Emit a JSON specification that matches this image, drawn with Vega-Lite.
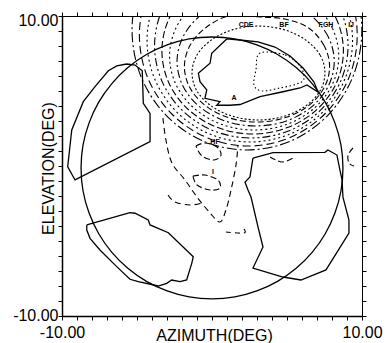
{
"$schema": "https://vega.github.io/schema/vega-lite/v6.json",
"width": 300, "height": 300,
"autosize": "none",
"padding": {"left": 62, "top": 16, "right": 24, "bottom": 27},
"background": "white",
"config": {"view": {"stroke": null}, "font": "Liberation Sans"},
"datasets": {
"contours": [
{"g":"k1","i":0,"x":7.53,"y":6.20},{"g":"k1","i":1,"x":7.20,"y":7.40},{"g":"k1","i":2,"x":6.23,"y":8.41},{"g":"k1","i":3,"x":4.80,"y":9.09},{"g":"k1","i":4,"x":3.10,"y":9.33},{"g":"k1","i":5,"x":1.40,"y":9.09},{"g":"k1","i":6,"x":-0.03,"y":8.41},{"g":"k1","i":7,"x":-1.00,"y":7.40},{"g":"k1","i":8,"x":-1.33,"y":6.20},{"g":"k1","i":9,"x":-1.00,"y":5.00},{"g":"k1","i":10,"x":-0.03,"y":3.99},{"g":"k1","i":11,"x":1.40,"y":3.31},{"g":"k1","i":12,"x":3.10,"y":3.07},{"g":"k1","i":13,"x":4.80,"y":3.31},{"g":"k1","i":14,"x":6.23,"y":3.99},{"g":"k1","i":15,"x":7.20,"y":5.00},
{"g":"k2","i":0,"x":7.84,"y":6.62},{"g":"k2","i":1,"x":7.47,"y":8.03},{"g":"k2","i":2,"x":6.42,"y":9.22},{"g":"k2","i":3,"x":4.85,"y":9.80},{"g":"k2","i":4,"x":3.00,"y":9.95},{"g":"k2","i":5,"x":1.15,"y":10.02},{"g":"k2","i":6,"x":-0.42,"y":9.22},{"g":"k2","i":7,"x":-1.47,"y":8.03},{"g":"k2","i":8,"x":-1.84,"y":6.62},{"g":"k2","i":9,"x":-1.47,"y":5.21},{"g":"k2","i":10,"x":-0.42,"y":4.01},{"g":"k2","i":11,"x":1.15,"y":3.21},{"g":"k2","i":12,"x":3.00,"y":2.93},{"g":"k2","i":13,"x":4.85,"y":3.21},{"g":"k2","i":14,"x":6.42,"y":4.01},{"g":"k2","i":15,"x":7.47,"y":5.21},
{"g":"k3","i":0,"x":8.15,"y":6.97},{"g":"k3","i":1,"x":7.75,"y":8.61},{"g":"k3","i":2,"x":6.62,"y":10.01},{"g":"k3","i":3,"x":4.92,"y":10.94},{"g":"k3","i":4,"x":2.91,"y":11.27},{"g":"k3","i":5,"x":0.90,"y":10.94},{"g":"k3","i":6,"x":-0.80,"y":10.01},{"g":"k3","i":7,"x":-1.93,"y":8.61},{"g":"k3","i":8,"x":-2.33,"y":6.97},{"g":"k3","i":9,"x":-1.93,"y":5.32},{"g":"k3","i":10,"x":-0.80,"y":3.93},{"g":"k3","i":11,"x":0.90,"y":2.99},{"g":"k3","i":12,"x":2.91,"y":2.67},{"g":"k3","i":13,"x":4.92,"y":2.99},{"g":"k3","i":14,"x":6.62,"y":3.93},{"g":"k3","i":15,"x":7.75,"y":5.32},
{"g":"k4","i":0,"x":8.45,"y":7.32},{"g":"k4","i":1,"x":8.02,"y":9.20},{"g":"k4","i":2,"x":6.80,"y":10.79},{"g":"k4","i":3,"x":4.97,"y":11.86},{"g":"k4","i":4,"x":2.81,"y":12.23},{"g":"k4","i":5,"x":0.65,"y":11.86},{"g":"k4","i":6,"x":-1.18,"y":10.79},{"g":"k4","i":7,"x":-2.40,"y":9.20},{"g":"k4","i":8,"x":-2.83,"y":7.32},{"g":"k4","i":9,"x":-2.40,"y":5.43},{"g":"k4","i":10,"x":-1.18,"y":3.84},{"g":"k4","i":11,"x":0.65,"y":2.77},{"g":"k4","i":12,"x":2.81,"y":2.40},{"g":"k4","i":13,"x":4.97,"y":2.77},{"g":"k4","i":14,"x":6.80,"y":3.84},{"g":"k4","i":15,"x":8.02,"y":5.43},
{"g":"k5","i":0,"x":8.76,"y":7.67},{"g":"k5","i":1,"x":8.30,"y":9.79},{"g":"k5","i":2,"x":6.99,"y":11.58},{"g":"k5","i":3,"x":5.03,"y":12.78},{"g":"k5","i":4,"x":2.71,"y":13.20},{"g":"k5","i":5,"x":0.39,"y":12.78},{"g":"k5","i":6,"x":-1.57,"y":11.58},{"g":"k5","i":7,"x":-2.88,"y":9.79},{"g":"k5","i":8,"x":-3.34,"y":7.67},{"g":"k5","i":9,"x":-2.88,"y":5.55},{"g":"k5","i":10,"x":-1.57,"y":3.76},{"g":"k5","i":11,"x":0.39,"y":2.56},{"g":"k5","i":12,"x":2.71,"y":2.13},{"g":"k5","i":13,"x":5.03,"y":2.56},{"g":"k5","i":14,"x":6.99,"y":3.76},{"g":"k5","i":15,"x":8.30,"y":5.55},
{"g":"k6","i":0,"x":9.07,"y":8.02},{"g":"k6","i":1,"x":8.58,"y":10.37},{"g":"k6","i":2,"x":7.18,"y":12.37},{"g":"k6","i":3,"x":5.09,"y":13.70},{"g":"k6","i":4,"x":2.62,"y":14.17},{"g":"k6","i":5,"x":0.15,"y":13.70},{"g":"k6","i":6,"x":-1.94,"y":12.37},{"g":"k6","i":7,"x":-3.34,"y":10.37},{"g":"k6","i":8,"x":-3.83,"y":8.02},{"g":"k6","i":9,"x":-3.34,"y":5.66},{"g":"k6","i":10,"x":-1.94,"y":3.67},{"g":"k6","i":11,"x":0.15,"y":2.33},{"g":"k6","i":12,"x":2.62,"y":1.87},{"g":"k6","i":13,"x":5.09,"y":2.33},{"g":"k6","i":14,"x":7.18,"y":3.67},{"g":"k6","i":15,"x":8.58,"y":5.66},
{"g":"k7","i":0,"x":9.37,"y":8.37},{"g":"k7","i":1,"x":8.85,"y":10.96},{"g":"k7","i":2,"x":7.37,"y":13.15},{"g":"k7","i":3,"x":5.15,"y":14.62},{"g":"k7","i":4,"x":2.52,"y":15.13},{"g":"k7","i":5,"x":-0.11,"y":14.62},{"g":"k7","i":6,"x":-2.33,"y":13.15},{"g":"k7","i":7,"x":-3.81,"y":10.96},{"g":"k7","i":8,"x":-4.33,"y":8.37},{"g":"k7","i":9,"x":-3.81,"y":5.78},{"g":"k7","i":10,"x":-2.33,"y":3.58},{"g":"k7","i":11,"x":-0.11,"y":2.11},{"g":"k7","i":12,"x":2.52,"y":1.60},{"g":"k7","i":13,"x":5.15,"y":2.11},{"g":"k7","i":14,"x":7.37,"y":3.58},{"g":"k7","i":15,"x":8.85,"y":5.78},
{"g":"k8","i":0,"x":9.68,"y":8.72},{"g":"k8","i":1,"x":9.13,"y":11.55},{"g":"k8","i":2,"x":7.55,"y":13.94},{"g":"k8","i":3,"x":5.20,"y":15.54},{"g":"k8","i":4,"x":2.42,"y":16.10},{"g":"k8","i":5,"x":-0.36,"y":15.54},{"g":"k8","i":6,"x":-2.71,"y":13.94},{"g":"k8","i":7,"x":-4.29,"y":11.55},{"g":"k8","i":8,"x":-4.84,"y":8.72},{"g":"k8","i":9,"x":-4.29,"y":5.89},{"g":"k8","i":10,"x":-2.71,"y":3.50},{"g":"k8","i":11,"x":-0.36,"y":1.90},{"g":"k8","i":12,"x":2.42,"y":1.33},{"g":"k8","i":13,"x":5.20,"y":1.90},{"g":"k8","i":14,"x":7.55,"y":3.50},{"g":"k8","i":15,"x":9.13,"y":5.89},
{"g":"k9","i":0,"x":9.99,"y":9.07},{"g":"k9","i":1,"x":9.41,"y":12.13},{"g":"k9","i":2,"x":7.75,"y":14.72},{"g":"k9","i":3,"x":5.26,"y":16.46},{"g":"k9","i":4,"x":2.33,"y":17.07},{"g":"k9","i":5,"x":-0.60,"y":16.46},{"g":"k9","i":6,"x":-3.09,"y":14.72},{"g":"k9","i":7,"x":-4.75,"y":12.13},{"g":"k9","i":8,"x":-5.33,"y":9.07},{"g":"k9","i":9,"x":-4.75,"y":6.00},{"g":"k9","i":10,"x":-3.09,"y":3.41},{"g":"k9","i":11,"x":-0.60,"y":1.67},{"g":"k9","i":12,"x":2.33,"y":1.07},{"g":"k9","i":13,"x":5.26,"y":1.67},{"g":"k9","i":14,"x":7.75,"y":3.41},{"g":"k9","i":15,"x":9.41,"y":6.00},
{"g":"in","i":0,"x":3.20,"y":7.53},{"g":"in","i":1,"x":4.87,"y":7.40},{"g":"in","i":2,"x":5.87,"y":6.67},{"g":"in","i":3,"x":6.13,"y":5.80},{"g":"in","i":4,"x":5.60,"y":5.45},{"g":"in","i":5,"x":4.53,"y":5.20},{"g":"in","i":6,"x":3.33,"y":5.00},{"g":"in","i":7,"x":2.80,"y":5.40},{"g":"in","i":8,"x":2.93,"y":6.40}
],
"circle": [
{"i":0,"x":8.73,"y":-0.13},{"i":1,"x":8.60,"y":1.39},{"i":2,"x":8.20,"y":2.86},{"i":3,"x":7.56,"y":4.24},{"i":4,"x":6.69,"y":5.48},{"i":5,"x":5.61,"y":6.56},{"i":6,"x":4.37,"y":7.43},{"i":7,"x":2.99,"y":8.07},{"i":8,"x":1.52,"y":8.47},{"i":9,"x":0,"y":8.60},{"i":10,"x":-1.52,"y":8.47},{"i":11,"x":-2.99,"y":8.07},{"i":12,"x":-4.37,"y":7.43},{"i":13,"x":-5.61,"y":6.56},{"i":14,"x":-6.69,"y":5.48},{"i":15,"x":-7.56,"y":4.24},{"i":16,"x":-8.20,"y":2.86},{"i":17,"x":-8.60,"y":1.39},{"i":18,"x":-8.73,"y":-0.13},{"i":19,"x":-8.60,"y":-1.65},{"i":20,"x":-8.20,"y":-3.12},{"i":21,"x":-7.56,"y":-4.50},{"i":22,"x":-6.69,"y":-5.74},{"i":23,"x":-5.61,"y":-6.82},{"i":24,"x":-4.37,"y":-7.69},{"i":25,"x":-2.99,"y":-8.33},{"i":26,"x":-1.52,"y":-8.73},{"i":27,"x":0,"y":-8.86},{"i":28,"x":1.52,"y":-8.73},{"i":29,"x":2.99,"y":-8.33},{"i":30,"x":4.37,"y":-7.69},{"i":31,"x":5.61,"y":-6.82},{"i":32,"x":6.69,"y":-5.74},{"i":33,"x":7.56,"y":-4.50},{"i":34,"x":8.20,"y":-3.12},{"i":35,"x":8.60,"y":-1.65}
],
"polys": [
{"g":"p1","i":0,"x":-5.69,"y":6.80},{"g":"p1","i":1,"x":-6.35,"y":6.67},{"g":"p1","i":2,"x":-6.91,"y":6.35},{"g":"p1","i":3,"x":-7.80,"y":5.29},{"g":"p1","i":4,"x":-8.58,"y":4.29},{"g":"p1","i":5,"x":-9.35,"y":2.40},{"g":"p1","i":6,"x":-9.62,"y":-0.05},{"g":"p1","i":7,"x":-9.13,"y":-0.93},{"g":"p1","i":8,"x":-4.13,"y":1.62},{"g":"p1","i":9,"x":-4.13,"y":3.51},{"g":"p1","i":10,"x":-4.58,"y":4.18},{"g":"p1","i":11,"x":-4.65,"y":6.35},{"g":"p1","i":12,"x":-5.13,"y":6.73},{"g":"p1","i":13,"x":-5.69,"y":6.80},
{"g":"p2","i":0,"x":-8.35,"y":-3.93},{"g":"p2","i":1,"x":-5.47,"y":-3.11},{"g":"p2","i":2,"x":-5.13,"y":-3.15},{"g":"p2","i":3,"x":-4.25,"y":-3.60},{"g":"p2","i":4,"x":-4.13,"y":-3.93},{"g":"p2","i":5,"x":-2.91,"y":-4.45},{"g":"p2","i":6,"x":-1.25,"y":-6.05},{"g":"p2","i":7,"x":-1.35,"y":-6.49},{"g":"p2","i":8,"x":-1.69,"y":-7.60},{"g":"p2","i":9,"x":-2.13,"y":-7.71},{"g":"p2","i":10,"x":-2.69,"y":-7.60},{"g":"p2","i":11,"x":-3.02,"y":-7.82},{"g":"p2","i":12,"x":-3.58,"y":-8.00},{"g":"p2","i":13,"x":-4.91,"y":-7.71},{"g":"p2","i":14,"x":-5.47,"y":-7.55},{"g":"p2","i":15,"x":-6.35,"y":-6.71},{"g":"p2","i":16,"x":-7.47,"y":-5.60},{"g":"p2","i":17,"x":-8.13,"y":-4.82},{"g":"p2","i":18,"x":-8.35,"y":-4.27},{"g":"p2","i":19,"x":-8.35,"y":-3.93},
{"g":"p3","i":0,"x":2.73,"y":0.53},{"g":"p3","i":1,"x":4.07,"y":0.89},{"g":"p3","i":2,"x":7.53,"y":0.91},{"g":"p3","i":3,"x":7.73,"y":1.07},{"g":"p3","i":4,"x":8.33,"y":0.73},{"g":"p3","i":5,"x":8.53,"y":-0.27},{"g":"p3","i":6,"x":8.67,"y":-0.93},{"g":"p3","i":7,"x":8.73,"y":-2.07},{"g":"p3","i":8,"x":9.13,"y":-3.60},{"g":"p3","i":9,"x":9.13,"y":-4.47},{"g":"p3","i":10,"x":7.60,"y":-6.93},{"g":"p3","i":11,"x":5.93,"y":-7.60},{"g":"p3","i":12,"x":4.73,"y":-7.40},{"g":"p3","i":13,"x":2.73,"y":-6.80},{"g":"p3","i":14,"x":3.40,"y":-5.40},{"g":"p3","i":15,"x":3.07,"y":-4.07},{"g":"p3","i":16,"x":2.60,"y":-2.07},{"g":"p3","i":17,"x":2.40,"y":-1.60},{"g":"p3","i":18,"x":2.20,"y":-1.07},{"g":"p3","i":19,"x":2.53,"y":-0.73},{"g":"p3","i":20,"x":2.73,"y":0.53},
{"g":"p4","i":0,"x":0.98,"y":8.47},{"g":"p4","i":1,"x":-0.02,"y":7.51},{"g":"p4","i":2,"x":-0.13,"y":6.85},{"g":"p4","i":3,"x":-0.91,"y":6.18},{"g":"p4","i":4,"x":-0.80,"y":5.62},{"g":"p4","i":5,"x":-0.35,"y":5.07},{"g":"p4","i":6,"x":-0.47,"y":4.51},{"g":"p4","i":7,"x":0.53,"y":4.29},{"g":"p4","i":8,"x":0.31,"y":4.05},{"g":"p4","i":9,"x":1.20,"y":4.05},{"g":"p4","i":10,"x":1.87,"y":4.10},{"g":"p4","i":11,"x":3.20,"y":4.62},{"g":"p4","i":12,"x":4.73,"y":4.95},{"g":"p4","i":13,"x":5.87,"y":5.20},{"g":"p4","i":14,"x":6.33,"y":5.40},{"g":"p4","i":15,"x":7.07,"y":4.93},{"g":"p4","i":16,"x":6.80,"y":5.60},{"g":"p4","i":17,"x":6.07,"y":6.53},{"g":"p4","i":18,"x":5.20,"y":7.33},{"g":"p4","i":19,"x":4.20,"y":7.93},{"g":"p4","i":20,"x":3.07,"y":8.27},{"g":"p4","i":21,"x":1.87,"y":8.40},{"g":"p4","i":22,"x":0.98,"y":8.47}
],
"open": [
{"g":"d1","i":0,"x":-3.27,"y":3.20},{"g":"d1","i":1,"x":-3.07,"y":1.73},{"g":"d1","i":2,"x":-2.67,"y":0.20},{"g":"d1","i":3,"x":-1.80,"y":-0.93},{"g":"d1","i":4,"x":-1.00,"y":-2.07},{"g":"d1","i":5,"x":-0.13,"y":-3.13},{"g":"d1","i":6,"x":0.53,"y":-3.73},{"g":"d1","i":7,"x":0.93,"y":-2.93},{"g":"d1","i":8,"x":1.27,"y":-1.60},{"g":"d1","i":9,"x":1.60,"y":0.07},{"g":"d1","i":10,"x":1.73,"y":1.40},
{"g":"d2","i":0,"x":-2.93,"y":-1.93},{"g":"d2","i":1,"x":-2.47,"y":-2.40},{"g":"d2","i":2,"x":-1.47,"y":-2.60},{"g":"d2","i":3,"x":-0.67,"y":-2.47},
{"g":"d3","i":0,"x":-1.07,"y":1.33},{"g":"d3","i":1,"x":-0.47,"y":1.53},{"g":"d3","i":2,"x":0.33,"y":1.27},{"g":"d3","i":3,"x":0.60,"y":0.73},{"g":"d3","i":4,"x":0.13,"y":0.40},{"g":"d3","i":5,"x":-0.67,"y":0.67},{"g":"d3","i":6,"x":-1.07,"y":1.33},
{"g":"d4","i":0,"x":-1.27,"y":-0.67},{"g":"d4","i":1,"x":-0.47,"y":-0.60},{"g":"d4","i":2,"x":0.40,"y":-0.93},{"g":"d4","i":3,"x":0.53,"y":-1.47},{"g":"d4","i":4,"x":-0.13,"y":-1.60},{"g":"d4","i":5,"x":-1.00,"y":-1.27},{"g":"d4","i":6,"x":-1.27,"y":-0.67},
{"g":"d5","i":0,"x":0.93,"y":-4.40},{"g":"d5","i":1,"x":2.13,"y":-4.47},{"g":"d5","i":2,"x":2.13,"y":-4.20},
{"g":"d6","i":0,"x":9.40,"y":1.20},{"g":"d6","i":1,"x":9.07,"y":0.73},{"g":"d6","i":2,"x":9.13,"y":0.20},{"g":"d6","i":3,"x":9.47,"y":0.00},
{"g":"d7","i":0,"x":3.87,"y":0.60},{"g":"d7","i":1,"x":4.67,"y":0.27},{"g":"d7","i":2,"x":5.40,"y":0.53}
],
"labels": [
{"t":"CDE","x":2.27,"y":9.40},{"t":"BF","x":4.80,"y":9.40},{"t":"FGH","x":7.60,"y":9.40},{"t":"IJ","x":9.27,"y":9.40},{"t":"A","x":1.47,"y":4.53},{"t":"HF","x":0.20,"y":1.60},{"t":"I","x":0.07,"y":-0.40}
]
},
"resolve": {"axis": {"x": "independent", "y": "independent"}},
"layer": [
{
"data": {"name": "contours"},
"mark": {"type": "line", "interpolate": "cardinal-closed", "clip": true, "color": "black", "strokeWidth": 1.1},
"encoding": {
"x": {"field": "x", "type": "quantitative", "scale": {"domain": [-10, 10], "nice": false, "zero": false},
 "axis": {"orient": "bottom", "values": [-10,-9,-8,-7,-6,-5,-4,-3,-2,-1,0,1,2,3,4,5,6,7,8,9,10], "labelExpr": "datum.value == 10 ? '10.00' : (datum.value == -10 ? '-10.00' : '')", "labelFont": "Liberation Sans", "labelFontSize": 16, "labelColor": "black", "labelPadding": 4, "labelFlush": false, "labelOverlap": false, "ticks": true, "tickSize": 4, "tickWidth": 1, "tickColor": "black", "domainColor": "black", "domainWidth": 1.5, "grid": false, "title": "AZIMUTH(DEG)", "titleFont": "Liberation Sans", "titleFontSize": 16, "titleFontWeight": "normal", "titleColor": "black", "titleX": 152, "titleY": 24, "titleBaseline": "alphabetic", "titleAlign": "center"}},
"y": {"field": "y", "type": "quantitative", "scale": {"domain": [-10, 10], "nice": false, "zero": false},
 "axis": {"orient": "left", "values": [-10,-9,-8,-7,-6,-5,-4,-3,-2,-1,0,1,2,3,4,5,6,7,8,9,10], "labelExpr": "datum.value == 10 ? '10.00' : (datum.value == -10 ? '-10.00' : '')", "labelFont": "Liberation Sans", "labelFontSize": 16, "labelColor": "black", "labelPadding": 0, "labelFlush": false, "labelOverlap": false, "labelOffset": {"condition": {"test": "datum.value == 10", "value": 4}, "value": -1}, "ticks": true, "tickSize": 4, "tickWidth": 1, "tickColor": "black", "domainColor": "black", "domainWidth": 1.5, "grid": false, "title": "ELEVATION(DEG)", "titleFont": "Liberation Sans", "titleFontSize": 16, "titleFontWeight": "normal", "titleColor": "black", "titleAngle": -90, "titleX": -9, "titleY": 152, "titleBaseline": "alphabetic", "titleAlign": "center"}},
"detail": {"field": "g"},
"order": {"field": "i", "type": "quantitative"},
"strokeDash": {"field": "g", "type": "nominal", "legend": null,
 "scale": {"domain": ["k1","k2","k3","k4","k5","k6","k7","k8","k9","in","d1","d2","d3","d4","d5","d6","d7"],
 "range": [[2,2],[6,3],[8,3,2,3],[2,3],[7,3],[8,3,2,3,2,3],[2,3],[8,4],[10,3,2,3],[1.5,2.5],[6,4],[6,4],[6,3],[6,3],[5,4],[6,3],[6,3]]}}
}
},
{
"data": {"name": "circle"},
"mark": {"type": "line", "interpolate": "cardinal-closed", "color": "black", "strokeWidth": 1.3},
"encoding": {
"x": {"field": "x", "type": "quantitative", "scale": {"domain": [-10, 10], "nice": false, "zero": false},
 "axis": {"orient": "top", "values": [-10,-9,-8,-7,-6,-5,-4,-3,-2,-1,0,1,2,3,4,5,6,7,8,9,10], "labels": false, "ticks": true, "tickSize": 4, "tickWidth": 1, "tickColor": "black", "domainColor": "black", "domainWidth": 1, "grid": false, "title": null}},
"y": {"field": "y", "type": "quantitative", "scale": {"domain": [-10, 10], "nice": false, "zero": false},
 "axis": {"orient": "right", "values": [-10,-9,-8,-7,-6,-5,-4,-3,-2,-1,0,1,2,3,4,5,6,7,8,9,10], "labels": false, "ticks": true, "tickSize": 4, "tickWidth": 1, "tickColor": "black", "domainColor": "black", "domainWidth": 1, "grid": false, "title": null}},
"order": {"field": "i", "type": "quantitative"}
}
},
{
"data": {"name": "polys"},
"mark": {"type": "line", "color": "black", "strokeWidth": 1.3},
"encoding": {
"x": {"field": "x", "type": "quantitative", "scale": {"domain": [-10, 10], "nice": false, "zero": false}, "axis": null},
"y": {"field": "y", "type": "quantitative", "scale": {"domain": [-10, 10], "nice": false, "zero": false}, "axis": null},
"detail": {"field": "g"},
"order": {"field": "i", "type": "quantitative"}
}
},
{
"data": {"name": "open"},
"mark": {"type": "line", "interpolate": "cardinal", "color": "black", "strokeWidth": 1.1},
"encoding": {
"x": {"field": "x", "type": "quantitative", "scale": {"domain": [-10, 10], "nice": false, "zero": false}, "axis": null},
"y": {"field": "y", "type": "quantitative", "scale": {"domain": [-10, 10], "nice": false, "zero": false}, "axis": null},
"detail": {"field": "g"},
"order": {"field": "i", "type": "quantitative"},
"strokeDash": {"field": "g", "type": "nominal", "legend": null,
 "scale": {"domain": ["k1","k2","k3","k4","k5","k6","k7","k8","k9","in","d1","d2","d3","d4","d5","d6","d7"],
 "range": [[2,2],[6,3],[8,3,2,3],[2,3],[7,3],[8,3,2,3,2,3],[2,3],[8,4],[10,3,2,3],[1.5,2.5],[6,4],[6,4],[6,3],[6,3],[5,4],[6,3],[6,3]]}}
}
},
{
"data": {"name": "labels"},
"mark": {"type": "text", "fontSize": 7, "fontWeight": "bold", "fill": "black", "font": "Liberation Sans"},
"encoding": {
"x": {"field": "x", "type": "quantitative", "scale": {"domain": [-10, 10], "nice": false, "zero": false}, "axis": null},
"y": {"field": "y", "type": "quantitative", "scale": {"domain": [-10, 10], "nice": false, "zero": false}, "axis": null},
"text": {"field": "t"}
}
}
]
}
